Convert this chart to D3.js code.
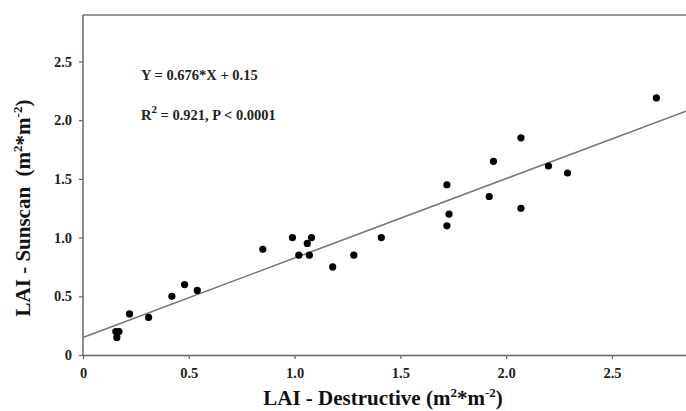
<!DOCTYPE html>
<html><head><meta charset="utf-8">
<script src="https://cdn.jsdelivr.net/npm/d3@7"></script>
<style>body{margin:0;background:#fff}svg{display:block}</style>
</head><body>
<script>
const destructive = [0.155,0.17,0.16,0.22,0.31,0.42,0.48,0.54,0.85,0.99,1.02,1.06,1.08,1.07,1.18,1.28,1.41,1.72,1.73,2.07,1.72,1.92,1.94,2.07,2.20,2.29,2.71];
const sunscan     = [0.20,0.20,0.15,0.35,0.32,0.50,0.60,0.55,0.90,1.00,0.85,0.95,1.00,0.85,0.75,0.85,1.00,1.10,1.20,1.25,1.45,1.35,1.65,1.85,1.61,1.55,2.19];
const xTicks = [0,0.5,1.0,1.5,2.0,2.5];
const yTicks = [0,0.5,1.0,1.5,2.0,2.5];
const slope = 0.676, intercept = 0.15;

const W=686,H=411;
const m={left:83,top:15,right:0,bottom:56};
const svg=d3.select("body").append("svg").attr("width",W).attr("height",H);
const x=d3.scaleLinear().domain([0,2.85]).range([m.left,W-m.right]);
const y=d3.scaleLinear().domain([0,2.896]).range([H-m.bottom,m.top]);
const font="'Liberation Serif','Times New Roman',serif";
const axisCol="#666";

// top border
svg.append("line").attr("x1",m.left).attr("x2",W).attr("y1",m.top).attr("y2",m.top)
  .attr("stroke","#777").attr("stroke-width",1.5);

const xa=svg.append("g").attr("transform",`translate(0,${H-m.bottom})`)
  .call(d3.axisBottom(x).tickValues(xTicks).tickSize(4).tickSizeOuter(0).tickPadding(9)
    .tickFormat(d=>d===0?"0":d3.format(".1f")(d)));
const ya=svg.append("g").attr("transform",`translate(${m.left},0)`)
  .call(d3.axisLeft(y).tickValues(yTicks).tickSize(4).tickSizeOuter(0).tickPadding(7)
    .tickFormat(d=>d===0?"0":d3.format(".1f")(d)));
[xa,ya].forEach(a=>{
  a.select(".domain").attr("stroke",axisCol).attr("stroke-width",1.5);
  a.selectAll(".tick line").attr("stroke",axisCol).attr("stroke-width",1.2);
  a.selectAll("text").attr("font-family",font).attr("font-weight","bold").attr("font-size",14.5).attr("fill","#222");
});
ya.select(".domain").attr("d",`M0,${H-m.bottom}V${m.top}`);

// regression line
svg.append("line").attr("x1",x(0)).attr("y1",y(intercept))
  .attr("x2",x(2.85)).attr("y2",y(intercept+slope*2.85))
  .attr("stroke","#777").attr("stroke-width",1.6);

// points
svg.append("g").selectAll("circle").data(destructive.map((d,i)=>[d,sunscan[i]])).join("circle")
  .attr("cx",d=>x(d[0])).attr("cy",d=>y(d[1])).attr("r",3.6).attr("fill","#000");

// annotation
const ann=svg.append("g").attr("font-family",font).attr("font-weight","bold").attr("font-size",14.5).attr("fill","#222");
ann.append("text").attr("x",141).attr("y",80).text("Y = 0.676*X + 0.15");
const t2=ann.append("text").attr("x",141).attr("y",120);
t2.append("tspan").text("R");
t2.append("tspan").attr("dy",-7).attr("font-size",11).text("2");
t2.append("tspan").attr("dy",7).text(" = 0.921, P < 0.0001");

// axis titles
const xt=svg.append("text").attr("x",383).attr("y",405).attr("text-anchor","middle")
  .attr("font-family",font).attr("font-weight","bold").attr("font-size",21).attr("fill","#111");
xt.append("tspan").text("LAI - Destructive (m");
xt.append("tspan").attr("dy",-8).attr("font-size",13).text("2");
xt.append("tspan").attr("dy",8).text("*m");
xt.append("tspan").attr("dy",-8).attr("font-size",13).text("-2");
xt.append("tspan").attr("dy",8).text(")");

const yt=svg.append("text").attr("transform","translate(30,208) rotate(-90)").attr("text-anchor","middle")
  .attr("font-family",font).attr("font-weight","bold").attr("font-size",21).attr("fill","#111");
yt.append("tspan").text("LAI - Sunscan\u00a0\u00a0(m");
yt.append("tspan").attr("dy",-8).attr("font-size",13).text("2");
yt.append("tspan").attr("dy",8).text("*m");
yt.append("tspan").attr("dy",-8).attr("font-size",13).text("-2");
yt.append("tspan").attr("dy",8).text(")");
</script>
</body></html>
